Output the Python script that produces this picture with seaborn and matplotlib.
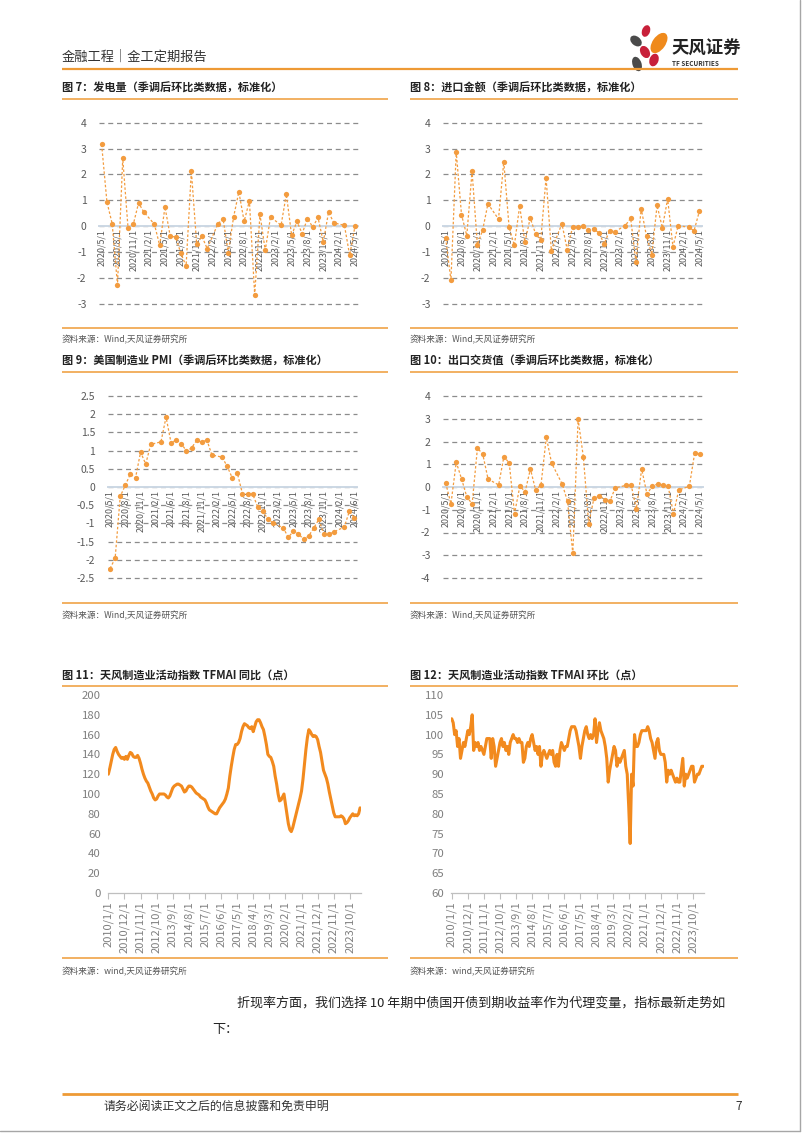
import numpy as np
import pandas as pd
import matplotlib.pyplot as plt
import seaborn as sns
from matplotlib.patches import Ellipse
from matplotlib.ticker import FuncFormatter

# ===================== 全局样式 =====================
sns.set_style('white')
plt.rcParams['font.family'] = ['Noto Sans CJK SC', 'DejaVu Sans']
plt.rcParams['axes.unicode_minus'] = False

W, H = 802, 1133
nan = np.nan
ORANGE_DOT = '#F39C3F'
ORANGE_LINE = '#F28A1E'
RULE = '#F0A347'
GRAY_TXT = '#595959'

# ===================== 数据 =====================
labels_q = ['2020/5/1', '2020/8/1', '2020/11/1', '2021/2/1', '2021/5/1', '2021/8/1',
            '2021/11/1', '2022/2/1', '2022/5/1', '2022/8/1', '2022/11/1', '2023/2/1',
            '2023/5/1', '2023/8/1', '2023/11/1', '2024/2/1', '2024/5/1']
labels_pmi = ['2020/5/1', '2020/8/1', '2020/11/1', '2021/2/1', '2021/6/1', '2021/8/1',
              '2021/11/1', '2022/2/1', '2022/5/1', '2022/8/1', '2022/11/1', '2023/2/1',
              '2023/5/1', '2023/8/1', '2023/11/1', '2024/2/1', '2024/6/1']

# 图7 发电量
power = [3.16, 0.94, 0.10, -2.26, 2.62, -0.06, 0.08, 0.90, 0.55, nan,
         0.08, -0.74, 0.75, -0.39, -0.41, -1.03, -1.54, 2.14, -0.67, -0.39,
         -0.86, nan, 0.08, 0.30, -1.02, 0.36, 1.33, 0.19, 0.98, -2.65,
         0.46, -0.93, 0.36, nan, 0.04, 1.24, -0.35, 0.19, -0.28, 0.30,
         -0.03, 0.34, -0.61, 0.55, 0.13, nan, 0.04, -1.12, 0.00]
# 图8 进口金额
imports = [-0.45, -2.09, 2.88, 0.45, -0.36, 2.12, -0.71, -0.15, 0.87, nan,
           0.28, 2.50, -0.03, -0.74, 0.79, -0.62, 0.32, -0.28, -0.51, 1.88,
           -0.94, nan, 0.10, -0.90, -0.04, -0.04, 0.00, -0.13, -0.09, -0.26,
           -0.68, -0.17, -0.21, nan, 0.03, 0.31, -1.37, 0.68, -0.38, -1.09,
           0.81, -0.06, 1.06, -0.79, 0.03, nan, -0.04, -0.17, 0.58]
# 图9 美国制造业PMI
pmi = [-2.24, -1.96, -0.26, 0.05, 0.36, 0.25, 0.96, 0.63, 1.17, nan,
       1.24, 1.92, 1.20, 1.30, 1.19, 0.99, 1.07, 1.28, 1.23, 1.30,
       0.88, nan, 0.82, 0.57, 0.25, 0.38, -0.18, -0.19, -0.19, -0.55,
       -0.67, -0.88, -0.99, nan, -1.12, -1.38, -1.22, -1.28, -1.44, -1.35,
       -1.13, -0.89, -1.30, -1.30, -1.23, nan, -1.10, -0.67, -0.85]
# 图10 出口交货值
exports = [0.18, -0.74, 1.09, 0.36, -0.44, -0.74, 1.71, 1.45, 0.35, nan,
           0.09, 1.34, 1.05, -1.17, 0.03, -0.20, 0.79, -0.15, 0.10, 2.19,
           1.05, nan, 0.13, -0.63, -2.92, 2.98, 1.31, -1.61, -0.48, -0.38,
           -0.55, -0.63, -0.04, nan, 0.07, 0.10, -0.96, 0.79, -0.31, 0.03,
           0.13, 0.09, 0.03, -1.18, -0.13, nan, 0.03, 1.49, 1.45]

labels_m = ['2010/1/1', '2010/12/1', '2011/11/1', '2012/10/1', '2013/9/1', '2014/8/1',
            '2015/7/1', '2016/6/1', '2017/5/1', '2018/4/1', '2019/3/1', '2020/2/1',
            '2021/1/1', '2021/12/1', '2022/11/1', '2023/10/1']
# 图11 TFMAI 同比（2010/1 - 2024/5 月度）
tfmai_yoy = [120, 126, 133, 140, 145, 147, 143, 140, 138, 136, 137, 135,
             138, 135, 139, 142, 141, 138, 137, 137, 139, 136, 131, 125,
             120, 116, 113, 111, 107, 103, 100, 96, 94, 95, 98, 100,
             100, 100, 100, 99, 97, 96, 98, 102, 106, 108, 109, 110,
             110, 109, 108, 105, 102, 103, 106, 108, 108, 107, 105, 103,
             101, 100, 99, 97, 96, 95, 94, 91, 87, 84, 83, 82,
             81, 80, 80, 83, 86, 88, 90, 92, 95, 100, 106, 118,
             128, 137, 145, 150, 150, 152, 156, 163, 168, 171, 170, 169,
             167, 166, 168, 163, 168, 173, 175, 175, 172, 168, 165, 158,
             150, 140, 138, 137, 133, 128, 118, 110, 100, 93, 94, 97,
             100, 90, 80, 70, 64, 62, 66, 72, 78, 84, 90, 96,
             103, 115, 130, 145, 157, 165, 163, 160, 158, 159, 158, 155,
             148, 142, 133, 124, 120, 116, 110, 102, 95, 88, 81, 77,
             77, 77, 77, 78, 77, 75, 70, 71, 73, 76, 78, 80,
             78, 79, 78, 80, 86]
# 图12 TFMAI 环比
tfmai_mom = [104, 103, 100, 101, 97, 99, 94, 96, 98, 97, 99, 101,
             100, 102, 105, 96, 98, 97, 98, 96, 97, 96, 95, 97,
             99, 99, 99, 94, 99, 97, 92, 94, 96, 98, 99, 97,
             98, 96, 97, 95, 98, 99, 100, 99, 99, 98, 99, 98,
             98, 93, 94, 97, 98, 97, 99, 100, 98, 96, 97, 95,
             97, 92, 95, 96, 95, 94, 95, 96, 95, 96, 93, 92,
             95, 92, 96, 98, 97, 96, 97, 97, 99, 101, 102, 102,
             102, 101, 99, 97, 94, 97, 99, 101, 102, 100, 99, 100,
             99, 100, 104, 98, 101, 103, 101, 100, 99, 97, 94, 88,
             91, 93, 95, 97, 96, 92, 94, 93, 94, 95, 96, 92,
             90, 82, 72.5, 90, 87, 100, 97, 97, 98, 100, 101, 101,
             101, 101, 102, 101, 99, 98, 96, 94, 98, 99, 96, 95,
             95, 95, 93, 88, 91, 90, 91, 90, 89, 88, 89, 88,
             88, 91, 94, 87, 90, 89, 90, 91, 92, 92, 88, 89,
             90, 90, 91, 92, 92]

fig = plt.figure(figsize=(W / 100, H / 100), dpi=100)

# 页面层：像素坐标
page = fig.add_axes([0, 0, 1, 1], zorder=-5)
page.set_xlim(0, W)
page.set_ylim(H, 0)
page.axis('off')


def rect(x0, x1, ytop, ybot):
    return [x0 / W, 1 - ybot / H, (x1 - x0) / W, (ybot - ytop) / H]


def hline(y, x0, x1, color=RULE, lw=1.2):
    page.plot([x0, x1], [y, y], color=color, lw=lw, solid_capstyle='butt')


fmt = FuncFormatter(lambda v, p: f'{v:g}')


def small_chart(r, values, labels, lo, hi, step):
    ax = fig.add_axes(r)
    df = pd.DataFrame({'idx': np.arange(len(values)), 'val': values}).dropna()
    sns.lineplot(data=df, x='idx', y='val', ax=ax, color=ORANGE_DOT, lw=0.9,
                 linestyle=(0, (2, 1.6)), marker='o', markersize=3.8,
                 markeredgecolor=ORANGE_DOT, markeredgewidth=0, zorder=3)
    # 类别轴交于 0（先定位脊线，再设置刻度标签）
    for s in ['top', 'right', 'left']:
        ax.spines[s].set_visible(False)
    ax.spines['bottom'].set_position(('data', 0))
    ax.spines['bottom'].set_color('#CCD8E4')
    ax.spines['bottom'].set_linewidth(1.4)
    ax.set_xlim(-0.5, len(values) - 0.5)
    ax.set_ylim(lo, hi)
    ax.set_yticks(np.arange(lo, hi + step / 2, step))
    ax.yaxis.set_major_formatter(fmt)
    ax.yaxis.grid(True, linestyle=(0, (4, 3)), color='#8C8C8C', lw=0.9)
    for g in ax.get_ygridlines():
        g.set_clip_on(False)
    ax.set_xticks(range(0, len(values), 3))
    ax.set_xticklabels(labels, rotation=90, fontsize=6.4, color=GRAY_TXT)
    ax.tick_params(axis='x', length=0, pad=2)
    ax.tick_params(axis='y', length=0, pad=9, labelsize=7.5, labelcolor=GRAY_TXT)
    ax.set_xlabel('')
    ax.set_ylabel('')
    ax.patch.set_alpha(0)
    return ax


def big_chart(r, values, lo, hi, step):
    ax = fig.add_axes(r)
    df = pd.DataFrame({'idx': np.arange(len(values)), 'val': values})
    sns.lineplot(data=df, x='idx', y='val', ax=ax, color=ORANGE_LINE, lw=2.2)
    ax.set_xlim(-0.5, len(values) - 0.5)
    ax.set_ylim(lo, hi)
    ax.set_yticks(np.arange(lo, hi + step / 2, step))
    ax.set_xticks(range(0, len(values), 11))
    ax.set_xticklabels(labels_m, rotation=90, fontsize=8, color='#7F7F7F')
    ax.tick_params(axis='x', length=4, width=0.8, color='#BFBFBF', pad=2, direction='out', bottom=True)
    ax.tick_params(axis='y', length=0, pad=5, labelsize=8.2, labelcolor='#7F7F7F')
    for s in ['top', 'right', 'left']:
        ax.spines[s].set_visible(False)
    ax.spines['bottom'].set_color('#BFBFBF')
    ax.spines['bottom'].set_linewidth(0.9)
    ax.set_xlabel('')
    ax.set_ylabel('')
    ax.patch.set_alpha(0)
    return ax


# ===================== 页眉 =====================
page.text(62, 57, '金融工程｜金工定期报告', fontsize=9.5, color='#333333', va='center')
hline(69, 62, 738, color='#EE9A35', lw=1.6)
petals = [((646, 31), 8, 12, 20, '#C8203A'), ((636, 41), 9, 13, -50, '#4A4A4A'),
          ((659, 43), 13, 23, 35, '#EF8A1C'), ((645, 52), 9, 13, -30, '#C8203A'),
          ((654, 60), 9, 13, 20, '#C8203A'), ((637, 64), 9, 15, -20, '#4A4A4A')]
for c, w, h, a, col in petals:
    page.add_patch(Ellipse(c, w, h, angle=a, color=col, lw=0))
page.text(671, 49, '天风证券', fontsize=12.5, fontweight='bold', color='#222222', va='center')
page.text(672, 63, 'TF SECURITIES', fontsize=4.6, fontweight='bold', color='#333333', va='center')

# ===================== 图7 / 图8 =====================
page.text(62, 88, '图 7：发电量（季调后环比类数据，标准化）', fontsize=8, fontweight='bold', color='#222222', va='center')
page.text(410, 88, '图 8：进口金额（季调后环比类数据，标准化）', fontsize=8, fontweight='bold', color='#222222', va='center')
hline(99, 62, 388)
hline(99, 410, 738)
small_chart(rect(99, 357.6, 122.7, 304), power, labels_q, -3, 4, 1)
small_chart(rect(443, 702, 122.7, 304), imports, labels_q, -3, 4, 1)
hline(328, 62, 388)
hline(328, 410, 738)
page.text(62, 340, '资料来源：Wind,天风证券研究所', fontsize=6.2, color='#555555', va='center')
page.text(410, 340, '资料来源：Wind,天风证券研究所', fontsize=6.2, color='#555555', va='center')

# ===================== 图9 / 图10 =====================
page.text(62, 361, '图 9：美国制造业 PMI（季调后环比类数据，标准化）', fontsize=8, fontweight='bold', color='#222222', va='center')
page.text(410, 361, '图 10：出口交货值（季调后环比类数据，标准化）', fontsize=8, fontweight='bold', color='#222222', va='center')
hline(372, 62, 388)
hline(372, 410, 738)
small_chart(rect(107.5, 357, 396, 578), pmi, labels_pmi, -2.5, 2.5, 0.5)
small_chart(rect(443, 702.6, 396, 578), exports, labels_q, -4, 4, 1)
hline(603, 62, 388)
hline(603, 410, 738)
page.text(62, 616, '资料来源：Wind,天风证券研究所', fontsize=6.2, color='#555555', va='center')
page.text(410, 616, '资料来源：Wind,天风证券研究所', fontsize=6.2, color='#555555', va='center')

# ===================== 图11 / 图12 =====================
page.text(62, 675, '图 11：天风制造业活动指数 TFMAI 同比（点）', fontsize=8, fontweight='bold', color='#222222', va='center')
page.text(410, 675, '图 12：天风制造业活动指数 TFMAI 环比（点）', fontsize=8, fontweight='bold', color='#222222', va='center')
hline(686, 62, 388)
hline(686, 410, 738)
big_chart(rect(107.6, 360.8, 695, 893), tfmai_yoy, 0, 200, 20)
big_chart(rect(451, 704, 695, 893), tfmai_mom, 60, 110, 5)
hline(958, 62, 388)
hline(958, 410, 738)
page.text(62, 972, '资料来源：wind,天风证券研究所', fontsize=6.2, color='#555555', va='center')
page.text(410, 972, '资料来源：wind,天风证券研究所', fontsize=6.2, color='#555555', va='center')

# ===================== 正文与页脚 =====================
page.text(237, 1003, '折现率方面，我们选择 10 年期中债国开债到期收益率作为代理变量，指标最新走势如',
          fontsize=9.4, color='#222222', va='center')
page.text(212, 1030, '下：', fontsize=9.4, color='#222222', va='center')
hline(1094, 62, 738, color='#EE9A35', lw=2)
page.text(104, 1106, '请务必阅读正文之后的信息披露和免责申明', fontsize=8.6, color='#333333', va='center')
page.text(735, 1106, '7', fontsize=8.6, color='#333333', va='center')
page.plot([800, 800], [0, 1131], color='#A6A6A6', lw=1)
page.plot([0, 800], [1131, 1131], color='#A6A6A6', lw=1)

fig.savefig('out.png', dpi=100)
